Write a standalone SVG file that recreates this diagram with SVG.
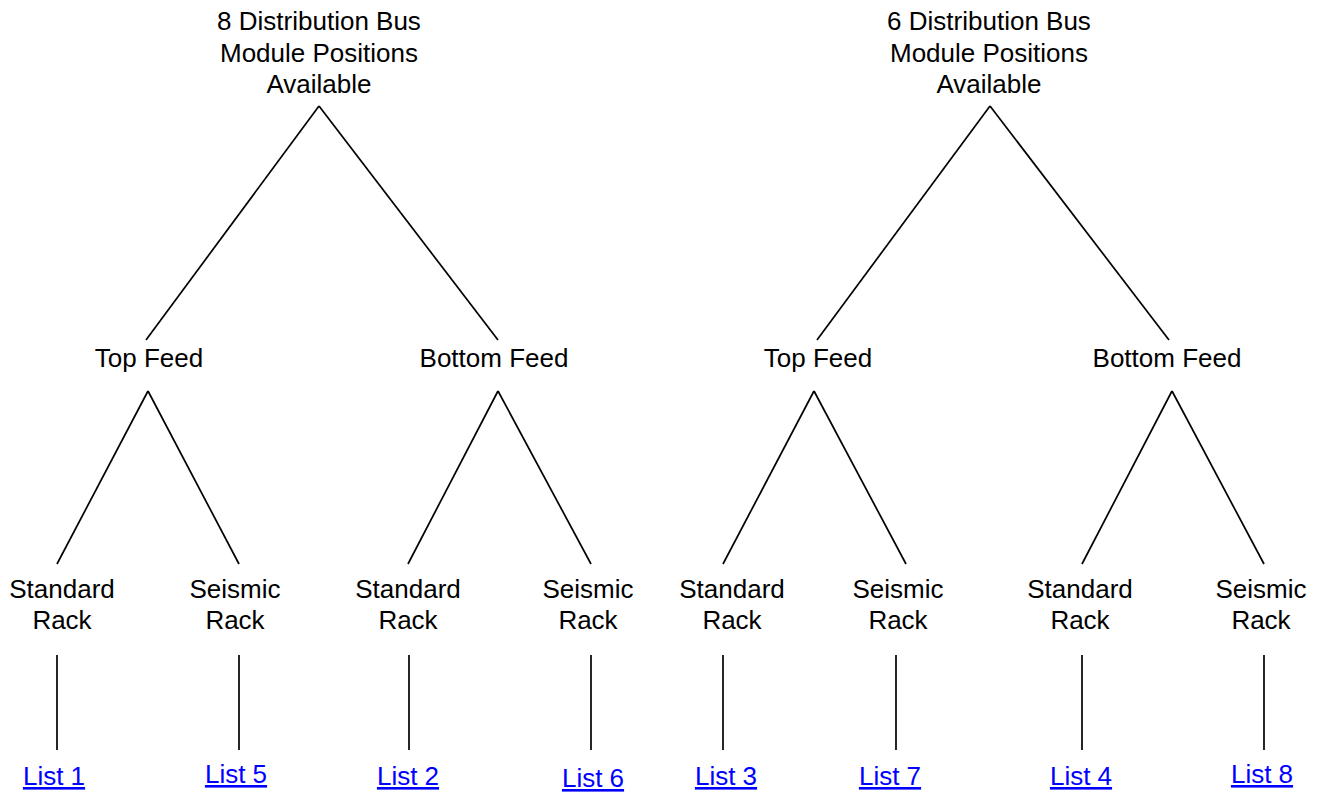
<svg xmlns="http://www.w3.org/2000/svg" width="1322" height="792" viewBox="0 0 1322 792">
<style>
text{font-family:"Liberation Sans",Arial,sans-serif;font-size:26px;fill:#000;text-anchor:middle}
.link{fill:#0000ff;text-decoration:underline}
.c line{stroke:#000;stroke-width:1.7;fill:none}
</style>
<rect width="1322" height="792" fill="#fff"/>
<g class="c" id="connectors">
<line x1="319" y1="106" x2="146" y2="340"/>
<line x1="319" y1="106" x2="498" y2="340"/>
<line x1="990" y1="106" x2="817" y2="340"/>
<line x1="990" y1="106" x2="1169" y2="340"/>
<line x1="148" y1="391" x2="57" y2="564"/>
<line x1="148" y1="391" x2="239" y2="564"/>
<line x1="498" y1="391" x2="408" y2="564"/>
<line x1="498" y1="391" x2="591" y2="564"/>
<line x1="814" y1="391" x2="723" y2="564"/>
<line x1="814" y1="391" x2="906" y2="564"/>
<line x1="1172" y1="391" x2="1082" y2="564"/>
<line x1="1172" y1="391" x2="1264" y2="564"/>
<line x1="57" y1="655" x2="57" y2="750"/>
<line x1="239" y1="655" x2="239" y2="750"/>
<line x1="409" y1="655" x2="409" y2="750"/>
<line x1="591" y1="655" x2="591" y2="750"/>
<line x1="723" y1="655" x2="723" y2="750"/>
<line x1="896" y1="655" x2="896" y2="750"/>
<line x1="1082" y1="655" x2="1082" y2="750"/>
<line x1="1264" y1="655" x2="1264" y2="750"/>
</g>
<g id="root8"><text x="319" y="30">8 Distribution Bus</text><text x="319" y="62">Module Positions</text><text x="319" y="93">Available</text></g>
<g id="root6"><text x="989" y="30">6 Distribution Bus</text><text x="989" y="62">Module Positions</text><text x="989" y="93">Available</text></g>
<g id="top8"><text x="149" y="367">Top Feed</text></g>
<g id="bottom8"><text x="494" y="367">Bottom Feed</text></g>
<g id="top6"><text x="818" y="367">Top Feed</text></g>
<g id="bottom6"><text x="1167" y="367">Bottom Feed</text></g>
<g id="std1"><text x="62" y="598">Standard</text><text x="62" y="629">Rack</text></g>
<g id="seis1"><text x="235" y="598">Seismic</text><text x="235" y="629">Rack</text></g>
<g id="std2"><text x="408" y="598">Standard</text><text x="408" y="629">Rack</text></g>
<g id="seis2"><text x="588" y="598">Seismic</text><text x="588" y="629">Rack</text></g>
<g id="std3"><text x="732" y="598">Standard</text><text x="732" y="629">Rack</text></g>
<g id="seis3"><text x="898" y="598">Seismic</text><text x="898" y="629">Rack</text></g>
<g id="std4"><text x="1080" y="598">Standard</text><text x="1080" y="629">Rack</text></g>
<g id="seis4"><text x="1261" y="598">Seismic</text><text x="1261" y="629">Rack</text></g>
<g id="list1"><text class="link" x="54" y="785">List 1</text></g>
<g id="list5"><text class="link" x="236" y="783">List 5</text></g>
<g id="list2"><text class="link" x="408" y="785">List 2</text></g>
<g id="list6"><text class="link" x="593" y="787">List 6</text></g>
<g id="list3"><text class="link" x="726" y="785">List 3</text></g>
<g id="list7"><text class="link" x="890" y="785">List 7</text></g>
<g id="list4"><text class="link" x="1081" y="785">List 4</text></g>
<g id="list8"><text class="link" x="1262" y="783">List 8</text></g>
</svg>
